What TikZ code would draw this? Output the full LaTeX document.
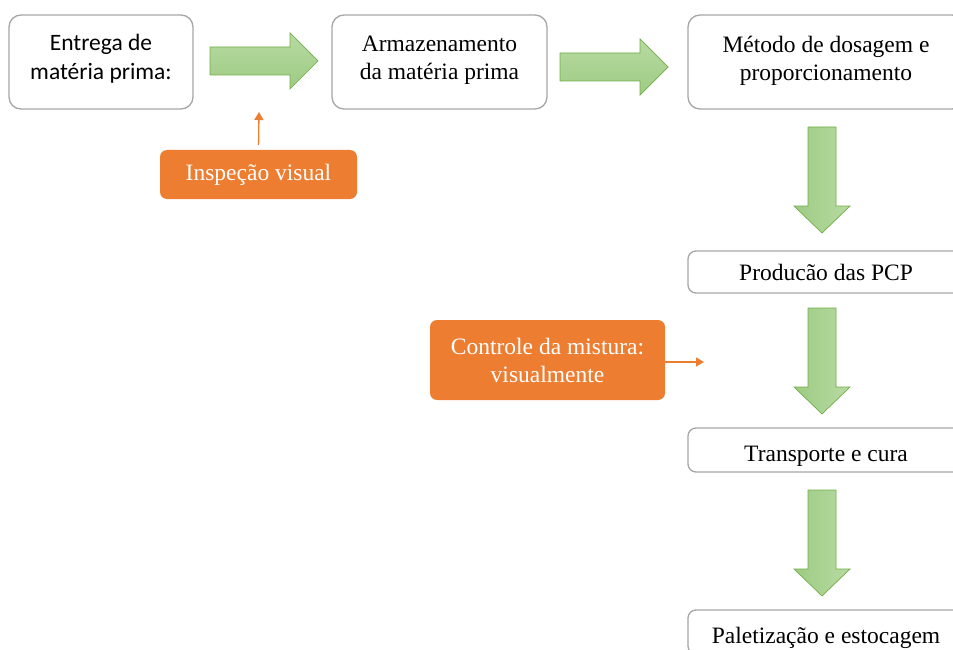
\documentclass[tikz,border=0pt]{standalone}
\usepackage{fontspec}
\setmainfont{Liberation Serif}
\newfontfamily\calibrifont{Carlito}
\usetikzlibrary{arrows.meta, positioning, calc}
\definecolor{boxgray}{HTML}{A6A6A6}
\definecolor{greenlight}{HTML}{B7DAA2}
\definecolor{greendark}{HTML}{9ECB83}
\definecolor{greenedge}{HTML}{70AD47}
\definecolor{accent}{HTML}{ED7D31}

\begin{document}
\begin{tikzpicture}[x=1pt, y=-1pt,
  stepbox/.style={draw=boxgray, line width=1.3pt, rounded corners=12pt, fill=white,
    align=center, inner sep=0pt, font=\fontsize{23.5}{28}\selectfont},
  lowbox/.style={stepbox, rounded corners=8pt, minimum width=276pt,
    text height=28pt, text depth=5pt},
  notebox/.style={fill=accent, text=white, rounded corners=7pt,
    align=center, inner sep=0pt, font=\fontsize{23.5}{28}\selectfont},
  check/.style={draw=accent, line width=1.3pt, -{Triangle[length=8pt,width=9pt]}},
  flow/.style={draw=greenedge, line width=0.7pt},
  harrow/.pic={\draw[flow, top color=greenlight, bottom color=greendark]
    (0,-14) -- (80,-14) -- (80,-28) -- (108,0) -- (80,28) -- (80,14) -- (0,14) -- cycle;},
  varrow/.pic={\draw[flow, left color=greendark, right color=greenlight]
    (-14,0) -- (-14,79) -- (-28,79) -- (0,106) -- (28,79) -- (14,79) -- (14,0) -- cycle;}
]
\useasboundingbox (0,0) rectangle (953,650);
\clip (0,0) rectangle (953,650);

% top row
\node[stepbox, minimum width=184pt, minimum height=94pt, text depth=11pt,
  font=\calibrifont\fontsize{23.5}{29}\selectfont] (entrega) at (101,62)
  {Entrega de\\mat\'eria prima:};
\node[stepbox, minimum width=215pt, minimum height=94pt, text depth=8pt] (armazenamento) at (439.5,62)
  {Armazenamento\\da mat\'eria prima};
\node[stepbox, minimum width=276pt, minimum height=94pt, text depth=8pt] (dosagem) at (826,62)
  {M\'etodo de dosagem e\\proporcionamento};

% right column
\node[stepbox, rounded corners=8pt, minimum width=276pt, minimum height=42pt] (producao) at (826,272)
  {Produc\~ao das PCP};
\node[lowbox, minimum height=44pt] (transporte) at (826,450) {Transporte e cura};
\node[lowbox, minimum height=44pt] (paletizacao) at (826,632) {Paletiza\c{c}\~ao e estocagem};

% block arrows
\pic at (210,61) {harrow};
\pic at (560,67) {harrow};
\pic at (822,127) {varrow};
\pic at (822,308) {varrow};
\pic at (822,490) {varrow};

% controls
\node[notebox, minimum width=197pt, minimum height=49pt] (inspecao) at (258.5,174.5) {Inspe\c{c}\~ao visual};
\node[notebox, minimum width=235pt, minimum height=80pt] (controle) at (547.5,360)
  {Controle da mistura:\\visualmente};

\coordinate (insp end) at (259,112);
\coordinate (ctrl end) at (704,362);
\draw[check, shorten <=5pt] (inspecao.north) -- (insp end);
\draw[check] (controle.east |- ctrl end) -- (ctrl end);

\end{tikzpicture}
\end{document}
